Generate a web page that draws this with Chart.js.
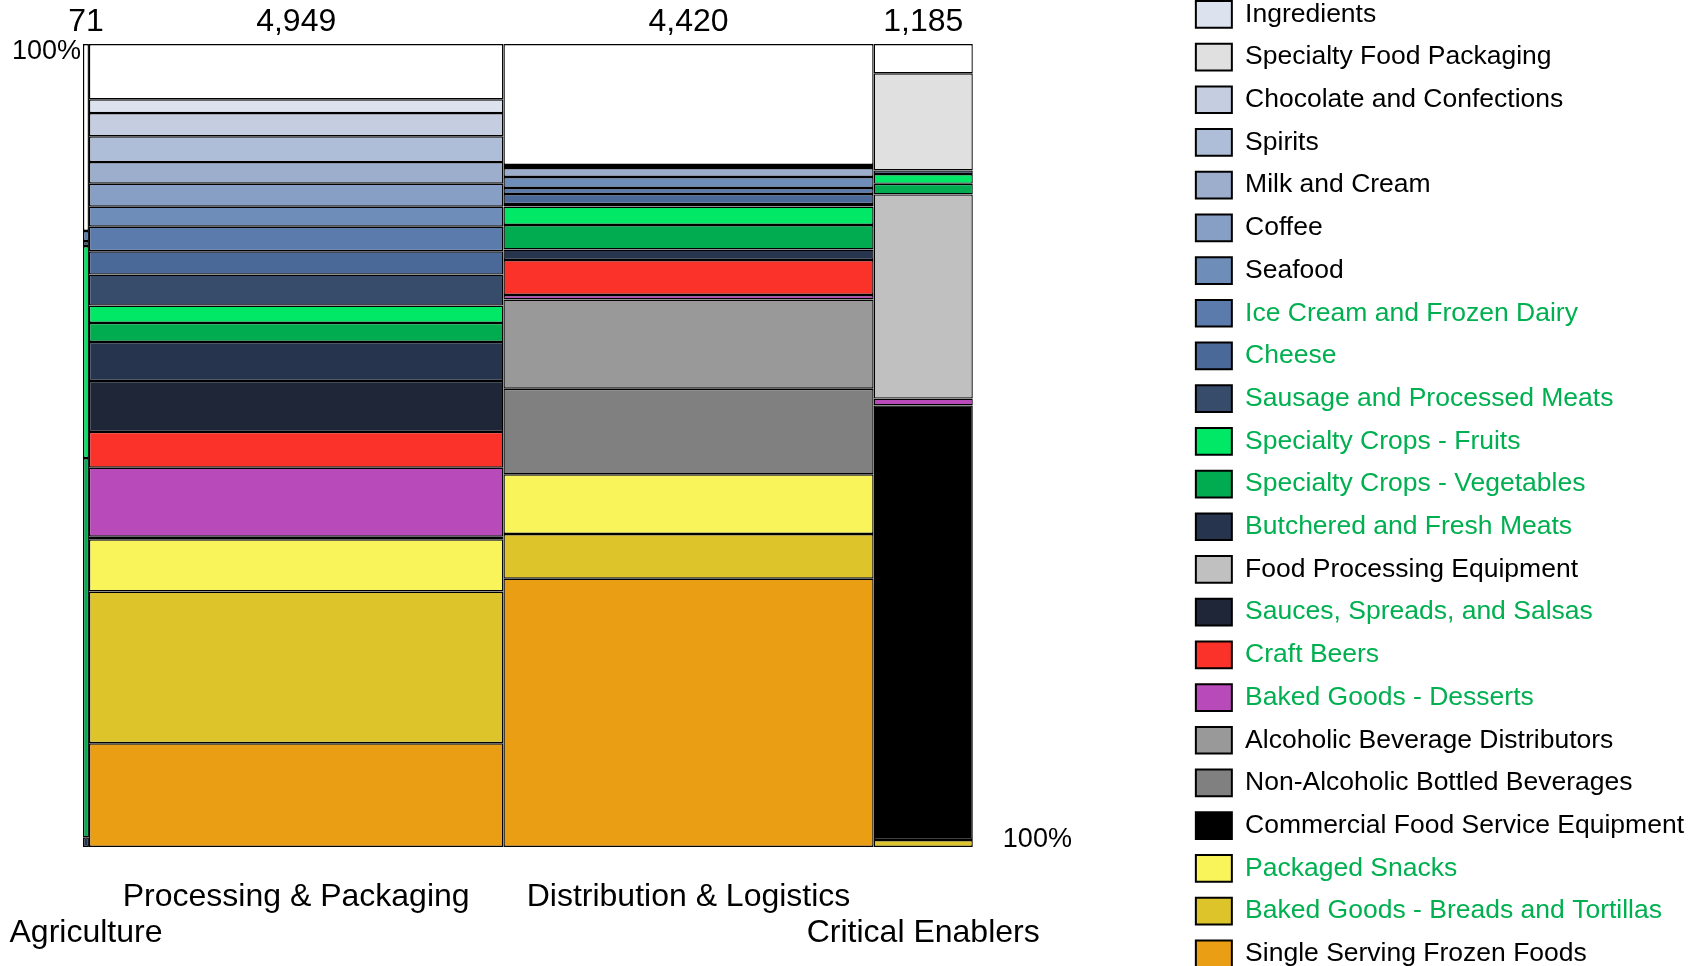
<!DOCTYPE html>
<html>
<head>
<meta charset="utf-8">
<title>Food and beverage segments</title>
<script src="https://cdn.jsdelivr.net/npm/chart.js@4/dist/chart.umd.min.js"></script>
<style>
  html, body { margin: 0; padding: 0; background: #fff; overflow: hidden; }
  #wrap { position: absolute; left: 0; top: -19px; }
</style>
</head>
<body>
<div id="wrap"><canvas id="mekko" width="1697" height="1010"></canvas></div>
<script>
// columns of the mekko, left to right, with their firm counts
const columns = ["Agriculture", "Processing & Packaging", "Distribution & Logistics", "Critical Enablers"];
const columnTotals = [71, 4949, 4420, 1185];
// bottom labels alternate between two rows so they don't collide
const labelRow = [1, 0, 0, 1];

// segments, top of the stack first
const segments = [
  "Other",
  "Ingredients",
  "Specialty Food Packaging",
  "Chocolate and Confections",
  "Spirits",
  "Milk and Cream",
  "Coffee",
  "Seafood",
  "Ice Cream and Frozen Dairy",
  "Cheese",
  "Sausage and Processed Meats",
  "Specialty Crops - Fruits",
  "Specialty Crops - Vegetables",
  "Butchered and Fresh Meats",
  "Food Processing Equipment",
  "Sauces, Spreads, and Salsas",
  "Craft Beers",
  "Baked Goods - Desserts",
  "Alcoholic Beverage Distributors",
  "Non-Alcoholic Bottled Beverages",
  "Commercial Food Service Equipment",
  "Packaged Snacks",
  "Baked Goods - Breads and Tortillas",
  "Single Serving Frozen Foods"
];
const segmentColors = [
  "#ffffff", "#dce3ee", "#e0e0e0", "#c4cee0", "#afbed8", "#9caecc",
  "#879ec5", "#6e8db9", "#5b7bad", "#4a6898", "#374b6b", "#00e865",
  "#00ac4f", "#26344e", "#c0c0c0", "#1e2638", "#fa3229", "#b94ab9",
  "#999999", "#808080", "#000000", "#f8f45a", "#ddc42a", "#e99e14"
];
// food product segments get green legend text
const greenSegments = [
  "Ice Cream and Frozen Dairy", "Cheese", "Sausage and Processed Meats",
  "Specialty Crops - Fruits", "Specialty Crops - Vegetables", "Butchered and Fresh Meats",
  "Sauces, Spreads, and Salsas", "Craft Beers", "Baked Goods - Desserts",
  "Packaged Snacks", "Baked Goods - Breads and Tortillas"
];

// share of each column in %, same order as segments
const agriculture = [23.29, 0, 0, 0, 0, 0, 0, 0, 1.25, 0, 0.62, 26.40, 47.23, 1.21, 0, 0, 0, 0, 0, 0, 0, 0, 0, 0];
const processing = [6.89, 1.71, 0, 2.90, 3.20, 2.70, 2.86, 2.49, 3.06, 2.91, 3.86, 2.15, 2.37, 4.86, 0, 6.35, 4.45, 8.59, 0.33, 0, 0, 6.50, 18.90, 12.92];
const distribution = [15.07, 0, 0, 0.37, 0, 1.12, 0, 1.37, 0.75, 1.25, 0.31, 2.30, 3.05, 1.31, 0, 0, 4.36, 0.56, 11.11, 10.66, 0, 7.43, 5.57, 33.41];
const enablers = [3.65, 0, 12.10, 0, 0, 0, 0, 0, 0, 0, 0.45, 1.21, 1.32, 0, 25.43, 0, 0, 0.85, 0, 0, 54.12, 0, 0.87, 0];

const shares = [agriculture, processing, distribution, enablers];

const columnStarts = [];
let running = 0;
columnTotals.forEach(t => { columnStarts.push(running); running += t; });
const grandTotal = running;
const columnCenters = columnStarts.map((s, i) => s + columnTotals[i] / 2);

// first dataset sits at the bottom of the stack, so build them in reverse
const datasets = segments.map((name, k) => ({
  label: name,
  data: shares.map(col => col[k]),
  backgroundColor: segmentColors[k],
  borderColor: "#000",
  borderWidth: 1.4,
  borderSkipped: false,
  inflateAmount: 0
})).reverse();

// stretch every bar across its column: width follows the column total
const mekkoWidths = {
  id: "mekkoWidths",
  afterDatasetsUpdate(chart) {
    const x = chart.scales.x;
    chart.data.datasets.forEach((ds, i) => {
      chart.getDatasetMeta(i).data.forEach((bar, j) => {
        const left = x.getPixelForValue(columnStarts[j]);
        const right = x.getPixelForValue(columnStarts[j] + columnTotals[j]);
        bar.x = (left + right) / 2;
        bar.width = right - left;
      });
    });
  }
};

// axes keep a fixed size and don't push the plot around for wide labels
function fixSize(size) {
  return axis => {
    if (axis.isHorizontal()) axis.height = size; else axis.width = size;
    axis.paddingLeft = axis.paddingRight = axis.paddingTop = axis.paddingBottom = 0;
  };
}

const noGrid = { display: false, drawTicks: false };

Chart.defaults.font.family = "'Liberation Sans', Arial, sans-serif";
Chart.defaults.color = "#000";

new Chart(document.getElementById("mekko"), {
  type: "bar",
  data: { labels: columnCenters, datasets: datasets },
  plugins: [mekkoWidths],
  options: {
    responsive: false,
    animation: false,
    events: [],
    layout: { padding: { top: 4, right: 3, bottom: 0, left: 0 } },
    plugins: {
      tooltip: { enabled: false },
      legend: {
        position: "right",
        align: "start",
        maxWidth: 700,
        labels: {
          font: { size: 26.5 },
          boxWidth: 36,
          boxHeight: 26.7,
          padding: 16,
          generateLabels: () => segments
            .map((name, k) => ({
              text: name,
              fillStyle: segmentColors[k],
              strokeStyle: "#000",
              lineWidth: 2,
              fontColor: greenSegments.includes(name) ? "#00b050" : "#000",
              datasetIndex: segments.length - 1 - k,
              hidden: false
            }))
            .filter(item => item.text !== "Other")
        }
      }
    },
    scales: {
      x: {
        type: "linear",
        min: 0,
        max: grandTotal,
        stacked: true,
        offset: false,
        bounds: "data",
        grid: noGrid,
        border: { display: false },
        afterBuildTicks: axis => { axis.ticks = columnCenters.map(v => ({ value: v })); },
        afterFit: fixSize(144),
        ticks: {
          autoSkip: false,
          maxRotation: 0,
          minRotation: 0,
          padding: 33,
          font: { size: 32, lineHeight: 1.1 },
          callback: (v, i) => labelRow[i] ? ["", columns[i]] : [columns[i], ""]
        }
      },
      totals: {
        type: "linear",
        axis: "x",
        position: "top",
        min: 0,
        max: grandTotal,
        offset: false,
        bounds: "data",
        grid: noGrid,
        border: { display: false },
        afterBuildTicks: axis => { axis.ticks = columnCenters.map(v => ({ value: v })); },
        afterFit: fixSize(59),
        ticks: {
          autoSkip: false,
          maxRotation: 0,
          minRotation: 0,
          padding: 4,
          font: { size: 32, lineHeight: 1.1 },
          callback: (v, i) => columnTotals[i].toLocaleString("en-US")
        }
      },
      y: {
        type: "linear",
        position: "left",
        min: 0,
        max: 100,
        stacked: true,
        grid: noGrid,
        border: { display: false },
        afterBuildTicks: axis => { axis.ticks = [{ value: 100 }]; },
        afterFit: fixSize(83),
        ticks: {
          padding: 2,
          labelOffset: 8,
          font: { size: 27 },
          callback: v => v + "%"
        }
      },
      pct: {
        type: "linear",
        axis: "y",
        position: "right",
        min: 0,
        max: 100,
        reverse: true,
        grid: noGrid,
        border: { display: false },
        afterBuildTicks: axis => { axis.ticks = [{ value: 100 }]; },
        afterFit: fixSize(207),
        ticks: {
          padding: 30,
          labelOffset: -7,
          font: { size: 27 },
          callback: v => v + "%"
        }
      }
    }
  }
});
</script>
</body>
</html>
